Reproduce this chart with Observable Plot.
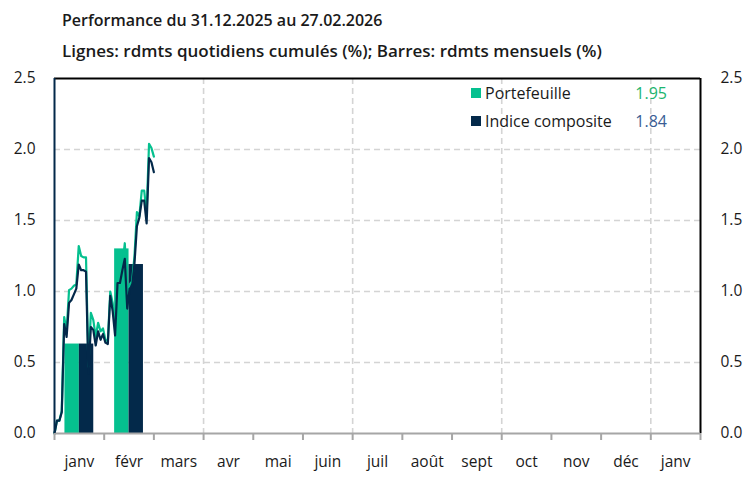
<!DOCTYPE html>
<html>
<head>
<meta charset="utf-8">
<script src="https://cdn.jsdelivr.net/npm/d3@7"></script>
<script src="https://cdn.jsdelivr.net/npm/@observablehq/plot@0.6"></script>
<style>
  body { margin: 0; background: #fff; font-family: "Open Sans", sans-serif; }
  #wrap { width: 752px; height: 498px; position: relative; }
  #head { height: 60px; padding-left: 62px; box-sizing: border-box; color: #1a1a1a; }
  #t1 { font-size: 16px; font-weight: 600; padding-top: 9px; line-height: 22px; }
  #t2 { font-size: 17px; font-weight: 600; padding-top: 9px; line-height: 22px; }
</style>
</head>
<body>
<div id="wrap">
  <div id="head">
    <div id="t1">Performance du 31.12.2025 au 27.02.2026</div>
    <div id="t2">Lignes: rdmts quotidiens cumulés (%); Barres: rdmts mensuels (%)</div>
  </div>
  <div id="chart"></div>
</div>
<script>
const months = ["janv","févr","mars","avr","mai","juin","juil","août","sept","oct","nov","déc","janv"];
const yTicks = [0, 0.5, 1.0, 1.5, 2.0, 2.5];

const dates = ["2025-12-31",
  "2026-01-02","2026-01-05","2026-01-06","2026-01-07","2026-01-08","2026-01-09",
  "2026-01-12","2026-01-13","2026-01-14","2026-01-15","2026-01-16",
  "2026-01-19","2026-01-20","2026-01-21","2026-01-22","2026-01-23",
  "2026-01-26","2026-01-27","2026-01-28","2026-01-29","2026-01-30",
  "2026-02-02","2026-02-03","2026-02-04","2026-02-05","2026-02-06",
  "2026-02-09","2026-02-10","2026-02-11","2026-02-12","2026-02-13",
  "2026-02-16","2026-02-17","2026-02-18","2026-02-19","2026-02-20",
  "2026-02-23","2026-02-24","2026-02-25","2026-02-26","2026-02-27"];

const portefeuille = [0, 0.09, 0.09, 0.16, 0.82, 0.72, 1.01, 1.02, 1.04, 1.05, 1.32, 1.25, 1.24, 1.24,
  0.47, 0.85, 0.80, 0.68, 0.78, 0.72, 0.74, 0.66, 0.65, 1.00, 0.92, 0.75, 1.09, 1.09, 1.18, 1.34,
  1.00, 1.05, 1.07, 1.25, 1.56, 1.53, 1.71, 1.71, 1.55, 2.04, 2.01, 1.95];
const indice = [0, 0.09, 0.09, 0.15, 0.77, 0.68, 0.92, 0.94, 0.98, 1.02, 1.19, 1.15, 1.15, 1.14,
  0.42, 0.75, 0.73, 0.62, 0.72, 0.66, 0.70, 0.64, 0.63, 0.97, 0.86, 0.69, 1.06, 1.06, 1.15, 1.23,
  0.88, 1.02, 1.03, 1.20, 1.46, 1.52, 1.64, 1.64, 1.48, 1.94, 1.91, 1.84];

const barMonths = [0, 1]; // janv, févr (month index)
const barPortefeuille = [0.63, 1.30];
const barIndice = [0.63, 1.19];

const seriesNames = ["Portefeuille", "Indice composite"];
const legendValues = [1.95, 1.84];

const GREEN = "#05c08f";
const NAVY = "#03294a";
const GREEN_TXT = "#1db56f";
const BLUE_TXT = "#3a5d94";

// line points: trading days spread over the first two months (category axis)
const nSteps = dates.length - 1;
const lineData = dates.map((d, i) => ({series: "Portefeuille", pos: i * 2 / nSteps, v: portefeuille[i]}));
const lineData2 = dates.map((d, i) => ({series: "Indice composite", pos: i * 2 / nSteps, v: indice[i]}));

const half = 0.29;
const bars = [];
barMonths.forEach((m, i) => {
  bars.push({x1: m + 0.5 - half, x2: m + 0.5, v: barPortefeuille[i], c: GREEN});
  bars.push({x1: m + 0.5, x2: m + 0.5 + half, v: barIndice[i], c: NAVY});
});

const grid = {stroke: "#d4d4d4", strokeOpacity: 1, strokeWidth: 1.6, strokeDasharray: "6,4"};

const chart = Plot.plot({
  width: 752,
  height: 438,
  marginTop: 18,
  marginBottom: 65,
  marginLeft: 54,
  marginRight: 52,
  style: {fontFamily: "'Open Sans', sans-serif", fontSize: "15px", color: "#1a1a1a", background: "#fff"},
  x: {domain: [0, 13], axis: null},
  y: {domain: [0, 2.5], axis: null},
  marks: [
    Plot.gridY([0.5, 1, 1.5, 2], grid),
    Plot.gridX([3, 6, 9, 12], grid),
    Plot.rect(bars, {x1: "x1", x2: "x2", y1: 0, y2: "v", fill: "c"}),
    Plot.line(lineData, {x: "pos", y: "v", stroke: GREEN, strokeWidth: 2.2}),
    Plot.line(lineData2, {x: "pos", y: "v", stroke: NAVY, strokeWidth: 2.2}),
    Plot.ruleY([2.5], {stroke: "#000", strokeWidth: 2}),
    Plot.ruleX([13], {stroke: "#000", strokeWidth: 2}),
    Plot.ruleY([0], {stroke: "#a6a6a6", strokeWidth: 2}),
    Plot.ruleX([0], {stroke: NAVY, strokeWidth: 2}),
    Plot.axisX(d3.range(14), {tickSize: 7, stroke: "#a6a6a6", strokeWidth: 2, tickFormat: () => "", label: null}),
    Plot.axisX(d3.range(13).map(i => i + 0.5), {tickSize: 0, tickPadding: 22, tickFormat: d => months[Math.floor(d)], fontSize: 15.5, label: null}),
    Plot.axisY(yTicks, {anchor: "left", tickSize: 0, tickPadding: 19, tickFormat: d => d.toFixed(1), fontSize: 15.5, label: null}),
    Plot.axisY(yTicks, {anchor: "right", tickSize: 0, tickPadding: 20, tickFormat: d => d.toFixed(1), fontSize: 15.5, label: null})
  ]
});

document.getElementById("chart").appendChild(chart);

// legend inside the frame, top right
const svg = d3.select(chart);
const x0 = 54, y0 = 18;
const lg = svg.append("g").attr("font-family", "'Open Sans', sans-serif").attr("font-size", 16);
seriesNames.forEach((name, i) => {
  const cy = y0 + 15 + i * 28;
  lg.append("rect").attr("x", x0 + 417).attr("y", cy - 5).attr("width", 10).attr("height", 10)
    .attr("fill", i === 0 ? GREEN : NAVY);
  lg.append("text").attr("x", x0 + 431).attr("y", cy).attr("dy", "0.35em").attr("text-anchor", "start")
    .attr("fill", "#1a1a1a").text(name);
  lg.append("text").attr("x", x0 + 613).attr("y", cy).attr("dy", "0.35em").attr("text-anchor", "end")
    .attr("fill", i === 0 ? GREEN_TXT : BLUE_TXT).text(legendValues[i].toFixed(2));
});
</script>
</body>
</html>
